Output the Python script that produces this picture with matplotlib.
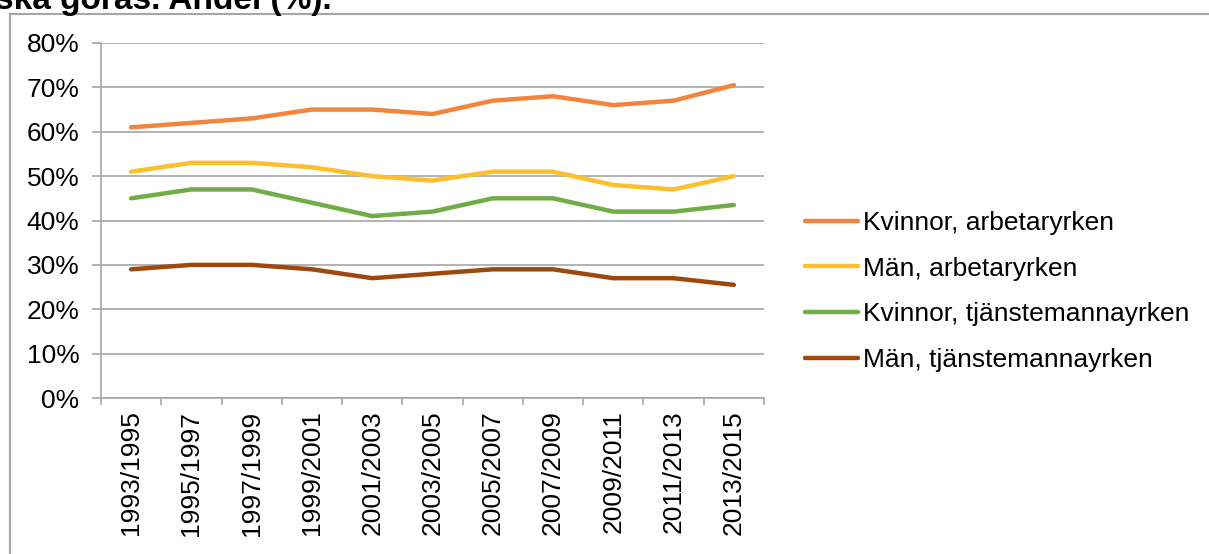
import matplotlib.pyplot as plt
from matplotlib.patches import Rectangle
from matplotlib.ticker import FixedLocator, PercentFormatter, NullFormatter

plt.rcParams['font.family'] = ['Liberation Sans', 'DejaVu Sans']

periods = ['1993/1995', '1995/1997', '1997/1999', '1999/2001', '2001/2003',
           '2003/2005', '2005/2007', '2007/2009', '2009/2011', '2011/2013',
           '2013/2015']

kvinnor_arb = [61, 62, 63, 65, 65, 64, 67, 68, 66, 67, 70.5]
man_arb = [51, 53, 53, 52, 50, 49, 51, 51, 48, 47, 50]
kvinnor_tj = [45, 47, 47, 44, 41, 42, 45, 45, 42, 42, 43.5]
man_tj = [29, 30, 30, 29, 27, 28, 29, 29, 27, 27, 25.5]

series = [
    ('Kvinnor, arbetaryrken', kvinnor_arb, '#F2843C'),
    ('Män, arbetaryrken', man_arb, '#FDBF2D'),
    ('Kvinnor, tjänstemannayrken', kvinnor_tj, '#70AD47'),
    ('Män, tjänstemannayrken', man_tj, '#9E480E'),
]

grid_col = '#A6A6A6'
fs = 19

fig = plt.figure(figsize=(12.09, 5.54), dpi=100)
ax = fig.add_axes([101 / 1209, 1 - 398 / 554, 663 / 1209, 355 / 554])

x = range(len(periods))
for name, vals, col in series:
    ax.plot(x, vals, color=col, linewidth=3.2, label=name, solid_capstyle='round')

ax.set_xlim(-0.5, len(periods) - 0.5)
ax.set_ylim(0, 80)
ax.set_yticks(range(0, 81, 10))
ax.yaxis.set_major_formatter(PercentFormatter(decimals=0))
ax.grid(axis='y', color=grid_col, linewidth=1.2)
ax.set_axisbelow(True)

# category labels centred, tick marks between categories
ax.set_xticks(list(x))
ax.set_xticklabels(periods, rotation=90)
ax.xaxis.set_minor_locator(FixedLocator([i - 0.5 for i in range(len(periods) + 1)]))
ax.xaxis.set_minor_formatter(NullFormatter())
ax.tick_params(axis='x', which='major', length=0, pad=9, labelsize=fs, colors='#000000')
ax.tick_params(axis='x', which='minor', length=5, width=1.2, color=grid_col)
ax.tick_params(axis='y', length=6.5, width=1.2, color=grid_col, pad=9, labelsize=fs)

for side in ['top', 'right']:
    ax.spines[side].set_visible(False)
for side in ['left', 'bottom']:
    ax.spines[side].set_color(grid_col)
    ax.spines[side].set_linewidth(1.2)

ax.legend(loc='center left', bbox_to_anchor=(1.046, 0.30), frameon=False,
          fontsize=fs, handlelength=2.0, handletextpad=0.2,
          labelspacing=0.82, borderaxespad=0)

# outer chart frame and clipped heading above it
fig.patches.append(Rectangle((10 / 1209, -0.05), 1.1, 1 - 14 / 554 + 0.05,
                             transform=fig.transFigure, fill=False,
                             edgecolor=grid_col, linewidth=1.5))
fig.text(-0.004, 1 - 8.5 / 554, 'ska göras. Andel (%).', fontsize=24,
         fontweight='bold', va='baseline', ha='left')

fig.savefig('out.png', dpi=100)
